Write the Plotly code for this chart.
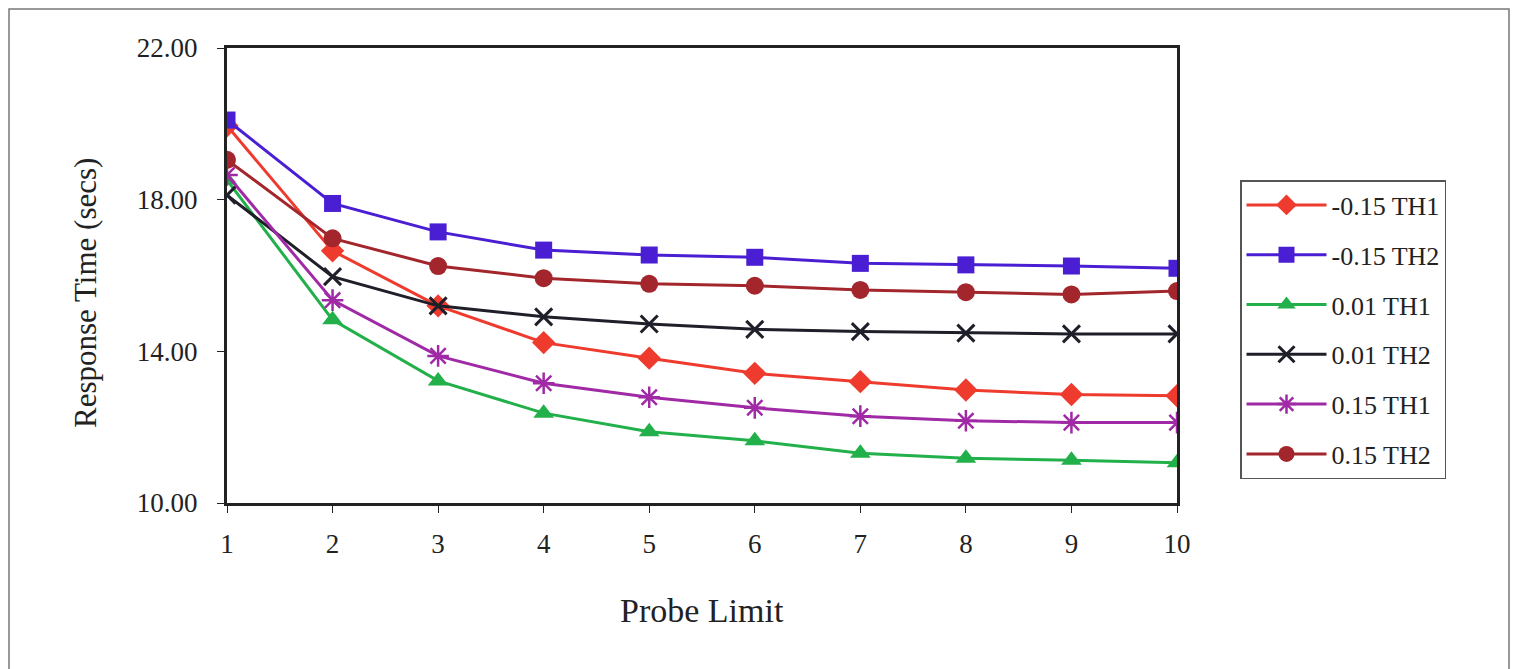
import plotly.graph_objects as go

# Probe limit values on the x axis
probe_limit = [1, 2, 3, 4, 5, 6, 7, 8, 9, 10]

# Response time (secs) for each threshold setting
neg015_th1 = [19.95, 16.65, 15.20, 14.23, 13.82, 13.42, 13.20, 12.98, 12.86, 12.83]
neg015_th2 = [20.10, 17.90, 17.15, 16.67, 16.54, 16.48, 16.32, 16.28, 16.25, 16.19]
pos001_th1 = [18.52, 14.83, 13.22, 12.37, 11.88, 11.64, 11.31, 11.18, 11.13, 11.06]
pos001_th2 = [18.12, 15.97, 15.20, 14.91, 14.72, 14.58, 14.52, 14.48, 14.46, 14.46]
pos015_th1 = [18.65, 15.35, 13.88, 13.16, 12.79, 12.51, 12.29, 12.17, 12.12, 12.12]
pos015_th2 = [19.05, 16.98, 16.25, 15.93, 15.78, 15.73, 15.62, 15.56, 15.50, 15.59]

series_names = ["-0.15 TH1", "-0.15 TH2", "0.01 TH1", "0.01 TH2", "0.15 TH1", "0.15 TH2"]
y_ticks = [10, 14, 18, 22]

FONT = "Liberation Serif, Times New Roman, serif"

styles = [
    dict(color="#EE3B2E", symbol="diamond", size=18, lw=0),
    dict(color="#4A1FD3", symbol="square", size=17, lw=0),
    dict(color="#22B04A", symbol="triangle-up", size=18, lw=0),
    dict(color="#1F1F2A", symbol="x-thin-open", size=17, lw=3),
    dict(color="#A02AA6", symbol="asterisk-open", size=18, lw=2.5),
    dict(color="#A3262C", symbol="circle", size=18, lw=0),
]
series = [neg015_th1, neg015_th2, pos001_th1, pos001_th2, pos015_th1, pos015_th2]

fig = go.Figure()
for i, (name, ys, st) in enumerate(zip(series_names, series, styles)):
    marker = dict(symbol=st["symbol"], size=st["size"], color=st["color"])
    if st["lw"]:
        marker["line"] = dict(color=st["color"], width=st["lw"])
    else:
        marker["line"] = dict(width=0)
    fig.add_trace(go.Scatter(
        x=probe_limit, y=ys, name=name, mode="lines+markers",
        line=dict(color=st["color"], width=3),
        marker=marker, legendgroup=f"g{i}",
    ))

W, H = 1517, 669
L, R, T, B = 227, 1177, 48, 503
pw, ph = R - L, B - T

def px(x):
    return (x - L) / pw

def py(y):
    return (B - y) / ph

fig.update_layout(
    width=W, height=H,
    margin=dict(l=L, r=W - R, t=T, b=H - B),
    paper_bgcolor="white", plot_bgcolor="white",
    font=dict(family=FONT, color="#222", size=27),
    showlegend=True,
    legend=dict(
        x=px(1240), y=py(180), xanchor="left", yanchor="top",
        bordercolor="#555", borderwidth=1.5, bgcolor="white",
        font=dict(family=FONT, size=26, color="#222"),
        tracegroupgap=13, itemwidth=80,
    ),
    xaxis=dict(
        range=[1, 10], tickvals=probe_limit, showgrid=False, zeroline=False,
        showline=True, linecolor="#222", linewidth=3, mirror=True,
        ticks="outside", ticklen=7, tickwidth=1, tickcolor="#222",
        ticklabelstandoff=8, tickfont=dict(size=27),
    ),
    yaxis=dict(
        range=[10, 22], tickvals=y_ticks, tickformat=".2f", showgrid=False,
        zeroline=False, showline=True, linecolor="#222", linewidth=3, mirror=True,
        ticks="outside", ticklen=7, tickwidth=1, tickcolor="#222",
        ticklabelstandoff=14, tickfont=dict(size=27),
    ),
    annotations=[
        dict(text="Response Time (secs)", x=px(85), y=py(293), xref="paper", yref="paper",
             textangle=-90, showarrow=False, font=dict(size=31, family=FONT, color="#222"),
             xanchor="center", yanchor="middle"),
        dict(text="Probe Limit", x=0.5, y=py(610), xref="paper", yref="paper",
             showarrow=False, font=dict(size=34, family=FONT, color="#222"),
             xanchor="center", yanchor="middle"),
    ],
    shapes=[
        dict(type="rect", xref="paper", yref="paper",
             x0=px(9), x1=px(1509), y0=py(700), y1=py(9),
             line=dict(color="#777", width=1.5), layer="below"),
    ],
)

fig.write_html("out.html")
